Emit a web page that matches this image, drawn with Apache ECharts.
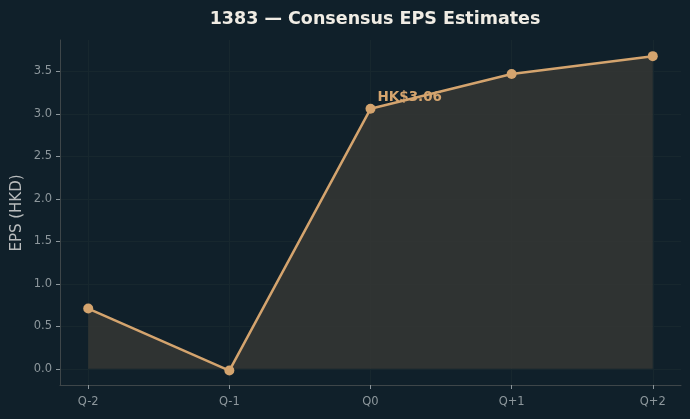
<!DOCTYPE html>
<html>
<head>
<meta charset="utf-8">
<script src="https://cdn.jsdelivr.net/npm/echarts@6/dist/echarts.min.js"></script>
<style>
  html, body { margin: 0; padding: 0; background: #10202a; }
  #chart { width: 690px; height: 419px; }
</style>
</head>
<body>
<div id="chart"></div>
<script>
// quarters and consensus EPS (HKD)
var quarters = ['Q-2', 'Q-1', 'Q0', 'Q+1', 'Q+2'];
var epsValues = [0.71, -0.02, 3.06, 3.47, 3.68];
var yTicks = [0, 0.5, 1.0, 1.5, 2.0, 2.5, 3.0, 3.5];
var labelIdx = 2; // the point that gets the HK$ label

var TEXT_MUTED = '#8d979c';
var AXIS_COLOR = '#3e4649';
var GRID_COLOR = '#17272e';
var LINE_COLOR = '#d4a46e';

var xIdx = quarters.map(function (q, i) { return i; });
var seriesData = epsValues.map(function (v, i) {
    var item = { value: [i, v] };
    if (i === labelIdx) {
        item.label = {
            show: true,
            position: 'right',
            offset: [-3, -11],
            formatter: 'HK$' + v.toFixed(2),
            color: LINE_COLOR,
            fontWeight: 'bold',
            fontSize: 13.5,
            fontFamily: 'DejaVu Sans'
        };
    }
    return item;
});

var myChart = echarts.init(document.getElementById('chart'));
var option = {
    backgroundColor: '#10202a',
    animation: false,
    title: {
        text: '1383 \u2014 Consensus EPS Estimates',
        left: 370, top: 5, textAlign: 'center',
        textStyle: { color: '#f0ece4', fontSize: 17.5, fontWeight: 'bold', fontFamily: 'DejaVu Sans' }
    },
    // y axis title placed by hand (axis name gets pushed away from the labels)
    graphic: [{
        type: 'text',
        x: 17, y: 213,
        rotation: Math.PI / 2,
        style: {
            text: 'EPS (HKD)', fill: '#b9bcbd', fontSize: 15,
            fontFamily: 'DejaVu Sans', align: 'center', verticalAlign: 'middle'
        }
    }],
    grid: { left: 60, right: 9, top: 40, bottom: 34 },
    xAxis: {
        type: 'value',
        min: -0.2, max: 4.2,
        axisLine: { show: true, onZero: false, lineStyle: { color: AXIS_COLOR } },
        axisTick: { show: true, length: 4, customValues: xIdx, lineStyle: { color: TEXT_MUTED } },
        axisLabel: {
            customValues: xIdx, color: TEXT_MUTED, fontSize: 11.5, margin: 11,
            fontFamily: 'DejaVu Sans',
            formatter: function (v) { return quarters[Math.round(v)]; }
        },
        splitLine: { show: true, lineStyle: { color: GRID_COLOR, width: 1 } }
    },
    yAxis: {
        type: 'value',
        min: -0.19, max: 3.87,
        axisLine: { show: true, onZero: false, lineStyle: { color: AXIS_COLOR } },
        axisTick: { show: true, length: 4, customValues: yTicks, lineStyle: { color: TEXT_MUTED } },
        axisLabel: {
            customValues: yTicks, color: TEXT_MUTED, fontSize: 11.5, margin: 8,
            fontFamily: 'DejaVu Sans',
            formatter: function (v) { return v.toFixed(1); }
        },
        splitLine: { show: true, lineStyle: { color: GRID_COLOR, width: 1 } }
    },
    series: [{
        type: 'line',
        data: seriesData,
        symbol: 'circle',
        symbolSize: 10,
        itemStyle: { color: LINE_COLOR },
        lineStyle: { color: LINE_COLOR, width: 2.5 },
        areaStyle: { color: '#3a3a36', opacity: 0.75, origin: 0 },
        z: 3
    }]
};
myChart.setOption(option);
</script>
</body>
</html>
